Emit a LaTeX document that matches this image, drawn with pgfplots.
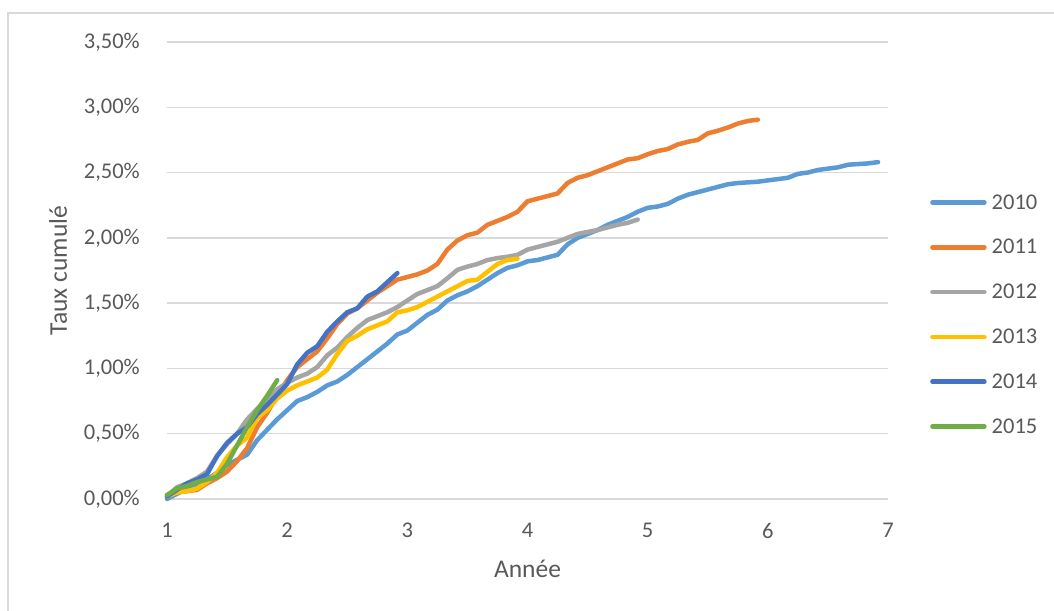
\documentclass[border=0pt]{standalone}
\usepackage{pgfplots}
\pgfplotsset{compat=1.18}
\usepackage{fontspec}
\setmainfont{Carlito}

\definecolor{c2010}{HTML}{5B9BD5}
\definecolor{c2011}{HTML}{ED7D31}
\definecolor{c2012}{HTML}{A5A5A5}
\definecolor{c2013}{HTML}{FFC000}
\definecolor{c2014}{HTML}{4472C4}
\definecolor{c2015}{HTML}{70AD47}
\definecolor{txt}{HTML}{595959}
\definecolor{gridc}{HTML}{D9D9D9}

\begin{document}
\begin{tikzpicture}[x=1pt,y=1pt]
\useasboundingbox (0,0) rectangle (1054,610);
% chart area frame
\draw[gridc, line width=1.2pt] (8,-5) -- (8,597) -- (1060,597);
\begin{axis}[
  at={(167pt,111pt)}, anchor=south west,
  scale only axis, width=721pt, height=457pt,
  xmin=1, xmax=7, ymin=0, ymax=3.5,
  clip=false,
  axis lines*=left,
  axis line style={draw=none},
  tick style={draw=none},
  xtick={1,2,3,4,5,6,7},
  ytick={0,0.5,1,1.5,2,2.5,3,3.5},
  yticklabels={{0,00\%},{0,50\%},{1,00\%},{1,50\%},{2,00\%},{2,50\%},{3,00\%},{3,50\%}},
  /pgf/number format/assume math mode=true,
  ymajorgrids,
  major grid style={gridc, line width=1.3pt},
  xticklabel style={font=\fontsize{22.5}{26}\selectfont, text=txt, inner sep=0pt, yshift=-24pt},
  yticklabel style={font=\fontsize{22.5}{26}\selectfont, text=txt, inner sep=0pt, xshift=-27pt},
  xlabel={Année},
  ylabel={Taux cumulé},
  xlabel style={at={(axis description cs:0.5,-0.1707)}, anchor=base, font=\fontsize{25.5}{30}\selectfont, text=txt},
  ylabel style={at={(axis description cs:-0.151,0.5)}, anchor=center, font=\fontsize{25.5}{30}\selectfont, text=txt},
  legend style={at={(axis description cs:1.0585,0.4037)}, anchor=west, draw=none, fill=none,
    inner sep=0pt, outer sep=0pt, font=\fontsize{22.5}{26}\selectfont, text=txt,
    row sep=28.7pt, nodes={inner sep=0pt},
    /tikz/every odd column/.append style={column sep=5pt}},
  legend cell align=left,
  legend image code/.code={\draw[#1] (0pt,0pt) -- (52pt,0pt);},
  every axis plot/.append style={line width=4.5pt, line cap=round, line join=round},
]
% 2010
\addplot[c2010] coordinates {
(1.000,0.00)(1.083,0.04)(1.167,0.08)(1.250,0.11)(1.333,0.15)(1.417,0.20)(1.500,0.26)(1.583,0.30)(1.667,0.34)(1.750,0.45)(1.833,0.53)(1.917,0.61)
(2.000,0.68)(2.083,0.75)(2.167,0.78)(2.250,0.82)(2.333,0.87)(2.417,0.90)(2.500,0.95)(2.583,1.01)(2.667,1.07)(2.750,1.13)(2.833,1.19)(2.917,1.26)
(3.000,1.29)(3.083,1.35)(3.167,1.41)(3.250,1.45)(3.333,1.52)(3.417,1.56)(3.500,1.59)(3.583,1.63)(3.667,1.68)(3.750,1.73)(3.833,1.77)(3.917,1.79)
(4.000,1.82)(4.083,1.83)(4.167,1.85)(4.250,1.87)(4.333,1.95)(4.417,2.00)(4.500,2.03)(4.583,2.06)(4.667,2.10)(4.750,2.13)(4.833,2.16)(4.917,2.20)
(5.000,2.23)(5.083,2.24)(5.167,2.26)(5.250,2.30)(5.333,2.33)(5.417,2.35)(5.500,2.37)(5.583,2.39)(5.667,2.41)(5.750,2.42)(5.833,2.425)(5.917,2.43)
(6.000,2.44)(6.083,2.45)(6.167,2.46)(6.250,2.49)(6.333,2.50)(6.417,2.52)(6.500,2.53)(6.583,2.54)(6.667,2.56)(6.750,2.565)(6.833,2.57)(6.917,2.58)
};
\addlegendentry{2010}
% 2011
\addplot[c2011] coordinates {
(1.000,0.03)(1.083,0.05)(1.167,0.06)(1.250,0.07)(1.333,0.12)(1.417,0.16)(1.500,0.21)(1.583,0.29)(1.667,0.39)(1.750,0.55)(1.833,0.66)(1.917,0.79)
(2.000,0.91)(2.083,1.01)(2.167,1.07)(2.250,1.13)(2.333,1.23)(2.417,1.34)(2.500,1.42)(2.583,1.46)(2.667,1.52)(2.750,1.58)(2.833,1.63)(2.917,1.68)
(3.000,1.70)(3.083,1.72)(3.167,1.75)(3.250,1.80)(3.333,1.91)(3.417,1.98)(3.500,2.02)(3.583,2.04)(3.667,2.10)(3.750,2.13)(3.833,2.16)(3.917,2.20)
(4.000,2.28)(4.083,2.30)(4.167,2.32)(4.250,2.34)(4.333,2.42)(4.417,2.46)(4.500,2.48)(4.583,2.51)(4.667,2.54)(4.750,2.57)(4.833,2.60)(4.917,2.61)
(5.000,2.64)(5.083,2.665)(5.167,2.68)(5.250,2.715)(5.333,2.735)(5.417,2.75)(5.500,2.80)(5.583,2.82)(5.667,2.845)(5.750,2.875)(5.833,2.895)(5.917,2.905)
};
\addlegendentry{2011}
% 2012
\addplot[c2012] coordinates {
(1.000,0.02)(1.083,0.09)(1.167,0.12)(1.250,0.16)(1.333,0.21)(1.417,0.33)(1.500,0.42)(1.583,0.50)(1.667,0.61)(1.750,0.69)(1.833,0.76)(1.917,0.84)
(2.000,0.89)(2.083,0.93)(2.167,0.96)(2.250,1.01)(2.333,1.10)(2.417,1.16)(2.500,1.24)(2.583,1.31)(2.667,1.37)(2.750,1.40)(2.833,1.43)(2.917,1.47)
(3.000,1.52)(3.083,1.57)(3.167,1.60)(3.250,1.63)(3.333,1.69)(3.417,1.755)(3.500,1.78)(3.583,1.80)(3.667,1.83)(3.750,1.845)(3.833,1.855)(3.917,1.87)
(4.000,1.91)(4.083,1.93)(4.167,1.95)(4.250,1.97)(4.333,2.00)(4.417,2.03)(4.500,2.045)(4.583,2.06)(4.667,2.08)(4.750,2.10)(4.833,2.115)(4.917,2.14)
};
\addlegendentry{2012}
% 2013
\addplot[c2013] coordinates {
(1.000,0.02)(1.083,0.05)(1.167,0.06)(1.250,0.08)(1.333,0.13)(1.417,0.20)(1.500,0.32)(1.583,0.41)(1.667,0.47)(1.750,0.62)(1.833,0.68)(1.917,0.77)
(2.000,0.83)(2.083,0.87)(2.167,0.90)(2.250,0.93)(2.333,0.99)(2.417,1.11)(2.500,1.21)(2.583,1.25)(2.667,1.30)(2.750,1.33)(2.833,1.36)(2.917,1.43)
(3.000,1.445)(3.083,1.47)(3.167,1.51)(3.250,1.55)(3.333,1.59)(3.417,1.63)(3.500,1.67)(3.583,1.68)(3.667,1.74)(3.750,1.80)(3.833,1.83)(3.917,1.84)
};
\addlegendentry{2013}
% 2014
\addplot[c2014] coordinates {
(1.000,0.02)(1.083,0.07)(1.167,0.12)(1.250,0.15)(1.333,0.19)(1.417,0.33)(1.500,0.43)(1.583,0.50)(1.667,0.55)(1.750,0.65)(1.833,0.72)(1.917,0.80)
(2.000,0.88)(2.083,1.03)(2.167,1.12)(2.250,1.17)(2.333,1.28)(2.417,1.36)(2.500,1.43)(2.583,1.46)(2.667,1.55)(2.750,1.59)(2.833,1.66)(2.917,1.73)
};
\addlegendentry{2014}
% 2015
\addplot[c2015] coordinates {
(1.000,0.03)(1.083,0.08)(1.167,0.10)(1.250,0.13)(1.333,0.15)(1.417,0.17)(1.500,0.27)(1.583,0.41)(1.667,0.55)(1.750,0.68)(1.833,0.79)(1.917,0.91)
};
\addlegendentry{2015}
\end{axis}
\end{tikzpicture}
\end{document}
